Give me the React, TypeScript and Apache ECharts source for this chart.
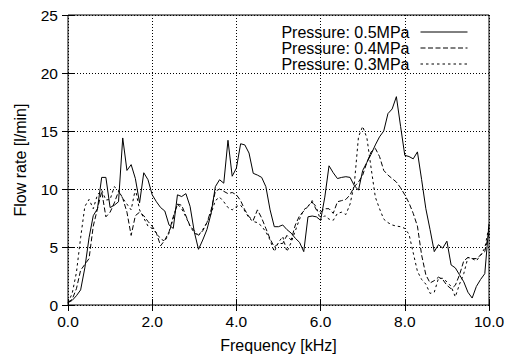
import React, { useEffect, useRef } from "react";
import * as echarts from "echarts";

const freq: number[] = Array.from({ length: 101 }, (_, i) => Math.round(i) / 10);

const p05: number[] = [
  0.2, 0.4, 0.8, 1.3, 3.2, 5.8, 7.7, 8.3, 11.0, 11.0,
  8.4, 8.6, 8.9, 14.4, 11.6, 12.1, 10.9, 8.8, 11.4, 10.8,
  9.5, 8.9, 8.4, 8.1, 6.9, 6.6, 9.5, 9.35, 9.6, 8.5,
  6.3, 4.8, 5.6, 6.5, 7.9, 10.2, 10.8, 10.5, 14.2, 11.1,
  11.8, 13.9, 13.8, 13.1, 11.35, 11.2, 11.0, 10.2, 8.2, 6.75,
  6.75, 6.9, 6.5, 6.2, 5.75, 5.4, 4.6, 7.6, 7.67, 7.6,
  7.3, 9.3, 12.0, 11.4, 10.9, 11.0, 11.06, 11.0, 10.3, 9.9,
  11.6, 12.3, 13.0, 13.8, 14.5, 15.0, 16.5, 16.9, 17.96, 15.4,
  12.9, 12.8, 12.6, 13.2, 10.8, 8.3, 6.5, 4.6, 5.2, 4.9,
  5.5, 3.45, 3.2, 2.6, 2.0, 1.1, 0.6, 1.6, 2.2, 2.7,
  7.0,
];

const p04: number[] = [
  0.2, 0.5, 1.4, 3.0, 3.5, 4.0, 6.8, 8.3, 9.8, 7.6,
  8.0, 8.8, 9.8, 9.2, 8.0, 6.0, 7.7, 8.0, 7.7, 7.2,
  6.8, 6.2, 5.1, 5.6, 6.3, 7.6, 8.7, 8.6, 7.7, 6.8,
  6.4, 6.0, 6.4, 7.1, 8.2, 9.8, 10.0, 9.8, 9.6, 9.7,
  9.5, 9.0, 8.2, 7.6, 7.3, 8.2, 7.5, 6.6, 5.7, 5.0,
  5.3, 5.3, 6.0, 5.6, 6.9, 7.7, 8.1, 8.5, 8.9, 8.2,
  8.0, 8.3, 8.3, 7.9, 8.9, 9.0, 9.1, 9.5, 10.2, 10.6,
  11.2, 12.3, 13.2, 13.5, 12.8, 11.6, 11.2, 10.9, 10.6, 10.1,
  9.5, 8.8, 7.9, 6.8, 4.3, 2.6, 1.9, 2.1, 2.4, 2.2,
  1.7, 1.4, 1.7, 2.6, 3.8, 4.1, 4.0, 4.0, 4.3, 4.6,
  6.2,
];

const p03: number[] = [
  0.2, 1.0, 2.8, 5.8, 8.5, 9.1, 8.3, 9.5, 9.9, 9.05,
  9.1, 10.2, 9.9, 9.2, 8.7, 8.2, 10.0, 8.2, 7.5, 6.8,
  6.6, 6.2, 5.7, 5.5, 6.2, 7.5, 8.7, 8.3, 7.6, 6.8,
  6.2, 6.0, 6.5, 7.1, 7.9, 9.0, 9.3, 8.9, 8.4, 8.2,
  8.5, 8.6, 8.1, 7.5, 7.2, 7.1, 6.8, 6.3, 5.6, 4.6,
  5.4, 5.9, 4.6, 5.4, 6.4, 7.4, 8.2, 8.5, 9.0, 8.4,
  7.3, 7.7, 7.4, 7.3, 7.9, 8.0, 7.8, 8.7, 10.4, 14.5,
  15.4, 14.4, 11.8, 9.3, 8.3, 7.4, 7.1, 6.9, 6.8, 6.75,
  6.6, 6.1, 4.5, 2.9, 2.2, 1.8, 1.0, 1.1, 2.3, 2.3,
  2.0, 1.6, 0.7, 1.8, 2.7, 4.1, 4.0, 3.8, 4.3, 4.9,
  6.8,
];

const seriesNames: string[] = ["Pressure: 0.5MPa", "Pressure: 0.4MPa", "Pressure: 0.3MPa"];
const xTicks = { min: 0, max: 10, interval: 2 };
const yTicks = { min: 0, max: 25, interval: 5 };

const FONT = "'Liberation Sans', Arial, Helvetica, sans-serif";

export default function App() {
  const ref = useRef<HTMLDivElement>(null);
  useEffect(() => {
    if (!ref.current) return;
    const chart = echarts.init(ref.current, undefined, { renderer: "svg" });
    const pairs = (vals: number[]) => freq.map((f, i) => [f, vals[i]]);
    const dashes: (string | number[])[] = ["solid", [5, 2.5], [2.5, 3]];
    const all = [p05, p04, p03];
    const tickCommon = { inside: true, length: 6, lineStyle: { color: "#000", width: 1 } };
    chart.setOption({
      animation: false,
      backgroundColor: "#fff",
      textStyle: { fontFamily: FONT, color: "#000" },
      grid: {
        left: 68, top: 15, width: 421, height: 290,
        show: true, borderColor: "#000", borderWidth: 1, backgroundColor: "transparent",
      },
      legend: {
        data: seriesNames,
        orient: "vertical",
        align: "right",
        right: 43,
        top: 24,
        itemWidth: 47,
        itemHeight: 16,
        itemGap: 0,
        padding: 0,
        itemStyle: { opacity: 0 },
        lineStyle: { width: 1 },
        textStyle: { fontFamily: FONT, fontSize: 16, color: "#000", lineHeight: 16, padding: [0, 6, 0, 0] },
      },
      xAxis: [
        {
          type: "value", ...xTicks,
          name: "Frequency [kHz]", nameLocation: "middle", nameGap: 32,
          nameTextStyle: { fontFamily: FONT, fontSize: 16, color: "#000" },
          axisLine: { show: false },
          axisTick: tickCommon,
          axisLabel: {
            color: "#000", fontFamily: FONT, fontSize: 15.5, margin: 8,
            showMinLabel: true, showMaxLabel: true,
            formatter: (v: number) => v.toFixed(1),
          },
          splitLine: { show: true, lineStyle: { color: "#000", type: [1, 2], width: 1 } },
        },
        {
          type: "value", ...xTicks, position: "top",
          axisLine: { show: false }, axisTick: tickCommon,
          axisLabel: { show: false }, splitLine: { show: false },
        },
      ],
      yAxis: [
        {
          type: "value", ...yTicks,
          name: "Flow rate [l/min]", nameLocation: "middle", nameGap: 40,
          nameTextStyle: { fontFamily: FONT, fontSize: 16, color: "#000" },
          axisLine: { show: false },
          axisTick: tickCommon,
          axisLabel: { color: "#000", fontFamily: FONT, fontSize: 15.5, margin: 10, showMinLabel: true, showMaxLabel: true },
          splitLine: { show: true, lineStyle: { color: "#000", type: [1, 2], width: 1 } },
        },
        {
          type: "value", ...yTicks, position: "right",
          axisLine: { show: false }, axisTick: tickCommon,
          axisLabel: { show: false }, splitLine: { show: false },
        },
      ],
      series: all.map((vals, k) => ({
        name: seriesNames[k],
        type: "line",
        xAxisIndex: 0,
        yAxisIndex: 0,
        data: pairs(vals),
        symbol: "none",
        showSymbol: false,
        lineStyle: { color: "#000", width: 1, type: dashes[k] },
        itemStyle: { color: "#000" },
        z: 3 - k,
      })),
    });
    return () => chart.dispose();
  }, []);
  return (
    <div
      ref={ref}
      style={{ position: "absolute", left: 0, top: 0, width: 511, height: 360, background: "#fff" }}
    />
  );
}
